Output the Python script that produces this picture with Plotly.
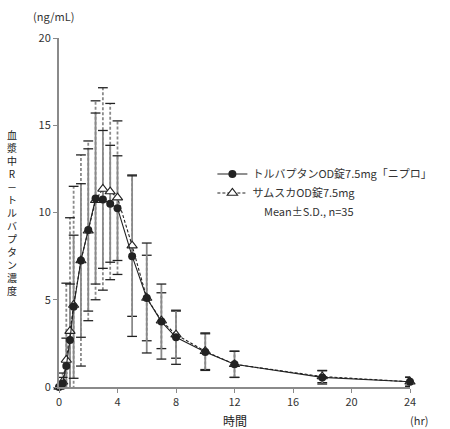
import plotly.graph_objects as go

# 時間 (hr)
time = [0, 0.25, 0.5, 0.75, 1, 1.5, 2, 2.5, 3, 3.5, 4, 5, 6, 7, 8, 10, 12, 18, 24]

# トルバプタンOD錠7.5mg「ニプロ」 mean / SD (ng/mL)
nipro_mean = [0, 0.2, 1.2, 2.7, 4.6, 7.25, 9.0, 10.8, 10.75, 10.5, 10.25, 7.5, 5.1, 3.75, 2.85, 2.0, 1.3, 0.55, 0.3]
nipro_sd = [0, 0.35, 1.6, 3.2, 4.1, 4.4, 4.65, 4.9, 3.95, 3.35, 3.0, 4.6, 3.15, 2.15, 1.55, 1.05, 0.75, 0.38, 0.27]

# サムスカOD錠7.5mg mean / SD (ng/mL)
samsca_mean = [0, 0.3, 1.55, 3.2, 4.7, 7.25, 8.95, 10.7, 11.35, 11.2, 10.85, 8.1, 5.1, 3.8, 3.0, 2.05, 1.3, 0.6, 0.3]
samsca_sd = [0, 0.5, 4.4, 6.5, 6.8, 6.05, 5.15, 5.7, 5.8, 5.05, 4.4, 4.05, 2.45, 1.6, 1.35, 1.05, 0.75, 0.35, 0.25]

x_ticks = [0, 4, 8, 12, 16, 20, 24]
y_ticks = [0, 5, 10, 15, 20]

FONT = "Noto Sans CJK JP"
INK = "#222222"
BAR = "#8a8a8a"


def errbar_traces(t, m, sd, dash):
    # 縦棒 + キャップを自前で描く（破線のエラーバー用）
    xs, ys, cx, cy = [], [], [], []
    for ti, mi, si in zip(t, m, sd):
        if si <= 0:
            continue
        xs += [ti, ti, None]
        ys += [mi - si, mi + si, None]
        cx += [ti, ti]
        cy += [mi - si, mi + si]
    bar = go.Scatter(x=xs, y=ys, mode="lines", showlegend=False, hoverinfo="skip",
                     line=dict(color=BAR, width=1.8, dash=dash))
    caps = go.Scatter(x=cx, y=cy, mode="markers", showlegend=False, hoverinfo="skip",
                      marker=dict(symbol="line-ew", size=7, line=dict(color=INK, width=1.3)))
    return [bar, caps]


fig = go.Figure()
for tr in errbar_traces(time, samsca_mean, samsca_sd, "3px,2px"):
    fig.add_trace(tr)
for tr in errbar_traces(time, nipro_mean, nipro_sd, "solid"):
    fig.add_trace(tr)

fig.add_trace(go.Scatter(
    x=time, y=samsca_mean, mode="lines+markers", name="サムスカOD錠7.5mg",
    cliponaxis=False,
    line=dict(color=INK, width=1.1, dash="3px,2px"),
    marker=dict(symbol="triangle-up", size=9, color="white", line=dict(color=INK, width=1.1))))
fig.add_trace(go.Scatter(
    x=time, y=nipro_mean, mode="lines+markers", name="トルバプタンOD錠7.5mg「ニプロ」",
    cliponaxis=False,
    line=dict(color=INK, width=1.1),
    marker=dict(symbol="circle", size=8, color=INK)))

ylabel = "<br>".join(list("血漿中R－トルバプタン濃度"))

fig.update_layout(
    width=450, height=429,
    margin=dict(l=59, r=40, t=38, b=42, autoexpand=False),
    paper_bgcolor="white", plot_bgcolor="white",
    font=dict(family=FONT, size=11, color="#333333"),
    showlegend=True,
    legend=dict(x=0.437, y=0.652, xanchor="left", yanchor="top", traceorder="reversed",
                bgcolor="rgba(0,0,0,0)", font=dict(size=11, color="#333333"),
                itemwidth=30, tracegroupgap=0),
    xaxis=dict(range=[0, 24], tickvals=x_ticks, showgrid=False, zeroline=False,
               showline=True, linecolor=BAR, linewidth=1.5,
               ticks="outside", ticklen=4, tickcolor=BAR, tickfont=dict(size=11)),
    yaxis=dict(range=[0, 20], tickvals=y_ticks, showgrid=False, zeroline=False,
               showline=True, linecolor=BAR, linewidth=2,
               ticks="outside", ticklen=4, tickcolor=BAR, tickfont=dict(size=11)),
    annotations=[
        dict(text="(ng/mL)", xref="paper", yref="paper", x=-0.08, y=1.0, yshift=22,
             xanchor="left", yanchor="middle", showarrow=False, font=dict(size=11)),
        dict(text=ylabel, xref="paper", yref="paper", x=-0.135, y=0.5,
             xanchor="center", yanchor="middle", showarrow=False,
             font=dict(size=10, color="#222222")),
        dict(text="時間", xref="paper", yref="paper", x=0.5, y=0, yshift=-33,
             xanchor="center", yanchor="middle", showarrow=False,
             font=dict(size=12, color="#222222")),
        dict(text="(hr)", xref="paper", yref="paper", x=1.0, y=0, yshift=-33, xshift=-2,
             xanchor="left", yanchor="middle", showarrow=False, font=dict(size=11)),
        dict(text="Mean±S.D., n=35", xref="paper", yref="paper", x=0.577, y=0.503,
             xanchor="left", yanchor="middle", showarrow=False,
             font=dict(size=11, color="#333333")),
    ],
)

fig.write_html("out.html", config={"displayModeBar": False},
               post_script="document.body.style.margin='0px';")
